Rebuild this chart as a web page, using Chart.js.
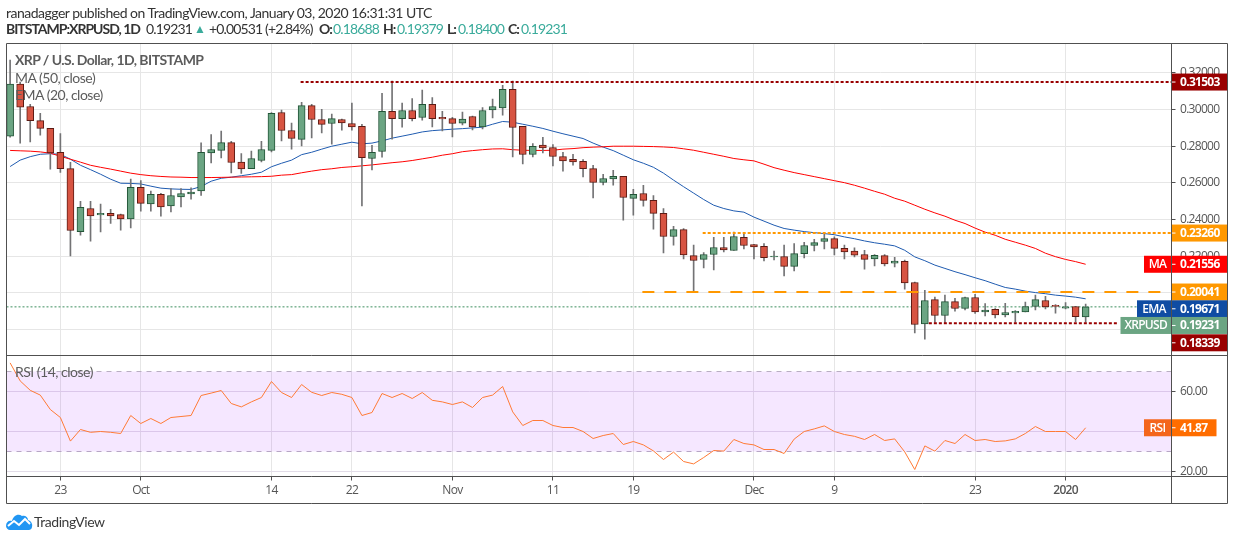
<!DOCTYPE html>
<html><head><meta charset="utf-8">
<style>
html,body{margin:0;padding:0;background:#fff;width:1234px;height:540px;overflow:hidden}
body{position:relative;font-family:Lato,"Open Sans",sans-serif;color:#333}
canvas{position:absolute;left:0;top:0}
.t{position:absolute;white-space:nowrap;line-height:16px}
.hd{font-size:14px;color:#333;letter-spacing:-0.5px}
.n{letter-spacing:-0.85px}
.b{font-weight:700;letter-spacing:-1px}
.up{color:#3aab9b}
.lg{font-size:14px;color:#5c5c5c;letter-spacing:-0.5px}
</style>
<script src="https://cdn.jsdelivr.net/npm/chart.js@4/dist/chart.umd.min.js"></script>
</head><body>
<canvas id="c" width="1234" height="540"></canvas>
<div class="t hd" style="left:6px;top:5px">ranadagger published on TradingView.com, January 03, 2020 16:31:31 UTC</div>
<div class="t hd b" style="left:6px;top:21px">BITSTAMP:XRPUSD, 1D</div>
<div class="t hd n" style="left:146px;top:21px">0.19231</div>
<div class="t hd up" style="left:194px;top:21px;font-size:12px">▲</div>
<div class="t hd n" style="left:209px;top:21px">+0.00531 (+2.84%)</div>
<div class="t hd b" style="left:319px;top:21px">O:</div><div class="t hd n up" style="left:333px;top:21px">0.18688</div>
<div class="t hd b" style="left:383px;top:21px">H:</div><div class="t hd n up" style="left:397px;top:21px">0.19379</div>
<div class="t hd b" style="left:447px;top:21px">L:</div><div class="t hd n up" style="left:458px;top:21px">0.18400</div>
<div class="t hd b" style="left:508px;top:21px">C:</div><div class="t hd n up" style="left:521px;top:21px">0.19231</div>
<div class="t lg" style="left:15px;top:52px;font-weight:700;letter-spacing:-0.55px">XRP / U.S. Dollar, 1D, BITSTAMP</div>
<div class="t lg" style="left:15px;top:70px">MA (50, close)</div>
<div class="t lg" style="left:15px;top:87px">EMA (20, close)</div>
<div class="t lg" style="left:15px;top:364px">RSI (14, close)</div>
<svg style="position:absolute;left:6px;top:513px" width="27" height="18" viewBox="0 0 27 18"><path d="M0 13 C0 9 3 7 6 8 C7 3 12 0 16 3 C19 2 22 4 22 7 C25 8 27 11 26 14 C26 16 24 17 23 17 L4 17 C2 17 0 15 0 13Z" fill="#2196f3"/><path d="M2 13 L8 8 L13 12 L19 6 L24 11" fill="none" stroke="#fff" stroke-width="2"/></svg>
<div class="t" style="left:34px;top:514px;font-size:14px;color:#3a3a3a;letter-spacing:-0.45px">TradingView</div>
<script>
const opens=[.2855,.3139,.3017,.2940,.2897,.2766,.2678,.2334,.2460,.2425,.2434,.2427,.2403,.2575,.2485,.2537,.2474,.2523,.2540,.2556,
.2764,.2777,.2820,.2714,.2678,.2722,.2777,.2984,.2886,.2837,.3022,.2946,.2924,.2946,.2924,.2908,.2733,.2771,.2990,.2951,
.2995,.2957,.3028,.2958,.2951,.2926,.2962,.2905,.2998,.3009,.3110,.2908,.2755,.2806,.2793,.2744,.2729,.2717,.2678,.2602,
.2622,.2635,.2515,.2542,.2504,.2433,.2307,.2345,.2203,.2182,.2209,.2247,.2231,.2302,.2263,.2253,.2196,.2198,.2144,.2214,
.2258,.2280,.2296,.2242,.2227,.2209,.2185,.2203,.2162,.2171,.2056,.1830,.1963,.1876,.1952,.1914,.1974,.1896,.1909,.1879,
.1890,.1896,.1925,.1958,.1932,.1916,.1925,.18688];
const highs=[.3270,.3150,.3029,.2980,.2898,.2869,.2712,.2499,.2499,.2484,.2456,.2429,.2620,.2613,.2555,.2543,.2569,.2569,.2573,.2819,
.2864,.2882,.2827,.2760,.2773,.2827,.2984,.2997,.2926,.3040,.3029,.3002,.2975,.2948,.3035,.2919,.2805,.3089,.3155,.3035,
.3060,.3106,.3066,.2991,.2958,.2986,.2965,.3011,.3057,.3133,.3155,.2909,.2815,.2849,.2809,.2766,.2756,.2727,.2696,.2647,
.2669,.2636,.2565,.2587,.2531,.2460,.2363,.2351,.2260,.2220,.2303,.2303,.2331,.2324,.2265,.2269,.2227,.2260,.2269,.2276,
.2292,.2329,.2305,.2260,.2245,.2232,.2209,.2209,.2194,.2178,.2058,.2014,.1976,.1987,.1969,.1976,.1992,.1941,.1914,.1943,
.1903,.1949,.1987,.1981,.1936,.1947,.1925,.19379];
const lows=[.2849,.2817,.2824,.2860,.2675,.2657,.2201,.2314,.2282,.2332,.2378,.2342,.2354,.2445,.2445,.2418,.2441,.2469,.2511,.2532,
.2709,.2736,.2654,.2651,.2678,.2714,.2769,.2829,.2784,.2802,.2845,.2873,.2811,.2887,.2887,.2474,.2671,.2740,.2838,.2904,
.2938,.2942,.2905,.2884,.2851,.2916,.2889,.2895,.2955,.2969,.2742,.2703,.2742,.2764,.2693,.2664,.2696,.2633,.2518,.2589,
.2587,.2396,.2423,.2473,.2347,.2218,.2260,.2185,.2003,.2136,.2125,.2223,.2231,.2239,.2185,.2174,.2179,.2092,.2119,.2190,
.2229,.2239,.2207,.2185,.2196,.2129,.2147,.2147,.2141,.2020,.1781,.1747,.1838,.1832,.1899,.1907,.1887,.1874,.1863,.1868,
.1839,.1896,.1907,.1912,.1889,.1912,.1842,.18400];
const closes=[.3139,.3013,.2940,.2897,.2764,.2678,.2340,.2466,.2420,.2434,.2420,.2403,.2575,.2488,.2537,.2469,.2531,.2542,.2549,.2766,
.2782,.2820,.2711,.2676,.2733,.2782,.2979,.2886,.2842,.3022,.2946,.2919,.2951,.2927,.2905,.2738,.2766,.2990,.2951,.2995,
.2951,.3028,.2951,.2949,.2924,.2948,.2905,.2995,.3017,.3110,.2902,.2755,.2799,.2791,.2744,.2720,.2714,.2678,.2602,.2624,
.2636,.2520,.2537,.2504,.2433,.2307,.2345,.2207,.2176,.2209,.2247,.2234,.2307,.2258,.2250,.2192,.2200,.2144,.2214,.2258,
.2274,.2296,.2242,.2223,.2205,.2182,.2205,.2158,.2173,.2054,.1827,.1958,.1876,.1952,.1914,.1974,.1896,.1905,.1879,.1892,
.1899,.1925,.1963,.1923,.1925,.1923,.1870,.19231];
const ma50=[.2777,.2775,.2773,.2769,.2762,.2745,.2729,.2713,.2696,.2685,.2675,.2664,.2653,.2645,.2639,.2635,.2632,.2631,.2629,.2629,
.2629,.2630,.2631,.2632,.2633,.2634,.2636,.2642,.2645,.2655,.2664,.2672,.2677,.2684,.2688,.2693,.2698,.2704,.2710,.2715,
.2722,.2731,.2740,.2751,.2759,.2770,.2776,.2781,.2785,.2786,.2781,.2778,.2777,.2777,.2778,.2784,.2787,.2792,.2795,.2797,
.2800,.2800,.2800,.2799,.2798,.2796,.2793,.2786,.2778,.2767,.2756,.2745,.2733,.2726,.2720,.2702,.2683,.2669,.2656,.2645,
.2634,.2623,.2612,.2601,.2587,.2571,.2554,.2538,.2516,.2500,.2478,.2456,.2436,.2418,.2396,.2378,.2353,.2331,.2314,.2292,
.2276,.2260,.2242,.2216,.2197,.2182,.2170,.21556];
const ema20=[.2689,.2724,.2743,.2756,.2759,.2756,.2729,.2696,.2672,.2647,.2620,.2598,.2597,.2594,.2582,.2571,.2567,.2565,.2564,.2580,
.2609,.2625,.2631,.2639,.2647,.2658,.2688,.2707,.2724,.2754,.2767,.2784,.2800,.2811,.2822,.2813,.2817,.2829,.2844,.2855,
.2866,.2878,.2885,.2889,.2893,.2896,.2900,.2904,.2920,.2935,.2931,.2920,.2909,.2897,.2882,.2868,.2855,.2842,.2817,.2795,
.2776,.2751,.2726,.2707,.2685,.2653,.2615,.2579,.2544,.2509,.2478,.2460,.2447,.2440,.2413,.2391,.2369,.2351,.2342,.2334,
.2328,.2323,.2317,.2305,.2295,.2283,.2273,.2265,.2256,.2232,.2196,.2175,.2151,.2133,.2115,.2099,.2082,.2066,.2047,.2029,
.2020,.2009,.2001,.1995,.1987,.1982,.1976,.19671];
const rsi14=[74.3,65.3,60.6,58.2,51,47,35.2,41,39.6,40,39.6,39,48,44,46.5,44,47,47.5,48,58,
59.2,60.5,54,52.3,54.8,57,65,59.5,57,63.5,59.6,58,59.5,58.6,57,48,49.5,59,57,59,
56.5,59.5,55.6,54.8,53.5,54.8,52,57,58.2,62.5,49.8,43,45.5,45.5,43,42,42,40,36.5,38,
39,33.5,35,33.3,30.3,26,29.7,25,23.8,27,30.5,30.2,36,34,33.3,31,31,29,36.2,40,
41.3,42.8,40,38.5,37.6,36,38.5,35.5,36.3,29.8,21,32.8,30.2,35.5,34,38.5,35.5,36,35,35.3,
36.3,39,42.5,40,40,40,36,41.87];
const priceTicks=[.18,.20,.22,.24,.26,.28,.30,.32];
const rsiTicks=[20,40,60];
const xTickDays=[5,13,26,34,44,54,62,74,82,96,105];
const xTickLabels=['23','Oct','14','22','Nov','11','19','Dec','9','23','2020'];
const lastClose=0.19231;
const resistanceTop=0.31503, resistanceMid=0.23260, resistanceLow=0.20041, supportLow=0.18339;
const rsiUpper=70, rsiLower=30;
const days=opens.map((_,i)=>i);
const FONT='"Open Sans","Noto Sans",sans-serif';
const xMin=-0.36,xMax=115.54;
const pts=a=>a.map((v,i)=>({x:i,y:v}));
const seg=(a,b,v)=>[{x:a,y:v},{x:b,y:v}];
const UP='#6ba583',DN='#d75442',UPB='#225437',DNB='#5b1a13',WICK='#737375';
const isUp=i=>closes[i]>=opens[i];
const lvl=(data,color,dash,width,order)=>({type:'line',data,yAxisID:'y',borderColor:color,borderWidth:width,borderDash:dash,pointRadius:0,order});
const frame={id:'frame',
 beforeDraw(ch){ch.ctx.letterSpacing='-0.7px';},
 afterDraw(ch){
  const c=ch.ctx,py=ch.scales.y,ry=ch.scales.yRsi;
  const L=6.5,R=1227.5,T=43.5,B=503.5,S=1171.5;
  const tag=(v,txt,col,name,dy,nameCol,w,nameW,scale)=>{
    const y=scale.getPixelForValue(v)+(dy||0);
    c.fillStyle=col;c.fillRect(S,y-8.5,w||55.5,17);
    c.fillStyle='#fff';c.fillRect(S,y-0.5,4,1);
    c.font='700 12px '+FONT;c.textAlign='left';c.textBaseline='middle';
    c.fillText(txt,S+8.5,y+0.5);
    if(name){c.fillStyle=nameCol||col;c.fillRect(S-nameW-0.5,y-8.5,nameW,17);
      c.fillStyle='#fff';c.textAlign='center';c.font='600 12px '+FONT;c.fillText(name,S-0.5-nameW/2,y+0.5);}
  };
  tag(resistanceTop,'0.31503','#990000',null,0,null,0,0,py);
  tag(resistanceMid,'0.23260','#ff9800',null,0,null,0,0,py);
  tag(ma50[107],'0.21556','#ff0000','MA',0,null,0,27,py);
  tag(resistanceLow,'0.20041','#ff9800',null,0,null,0,0,py);
  tag(ema20[107],'0.19671','#0f4ca3','EMA',10,null,0,34,py);
  tag(lastClose,'0.19231',UP,'XRPUSD',18.6,null,0,50.5,py);
  tag(supportLow,'0.18339','#990000',null,19.6,null,0,0,py);
  tag(rsi14[107],'41.87','#ff6d00','RSI',0,'#f4661b',45,27,ry);
  c.strokeStyle='#505050';c.lineWidth=1;c.beginPath();
  c.rect(L,T,R-L,B-T);
  c.moveTo(S,T);c.lineTo(S,B);
  c.moveTo(L,355.5);c.lineTo(R,355.5);
  c.moveTo(L,476.5);c.lineTo(R,476.5);
  c.stroke();
}};
new Chart(document.getElementById('c'),{
  data:{datasets:[
    lvl(seg(xMin,xMax,lastClose),'#3d8f5f',[2,2],1,8),
    {type:'line',data:pts(ma50),yAxisID:'y',borderColor:'#ff0000',borderWidth:1,pointRadius:0,tension:0,order:6},
    {type:'line',data:pts(ema20),yAxisID:'y',borderColor:'#1f5bb0',borderWidth:1,pointRadius:0,tension:0,order:6},
    {type:'bar',label:'wick',data:days.map(i=>({x:i,y:[lows[i],highs[i]]})),yAxisID:'y',backgroundColor:WICK,barThickness:1,grouped:false,order:5},
    {type:'bar',label:'body',data:days.map(i=>({x:i,y:[opens[i],closes[i]]})),yAxisID:'y',
      backgroundColor:days.map(i=>isUp(i)?UP:DN),borderColor:days.map(i=>isUp(i)?UPB:DNB),borderWidth:1,borderSkipped:false,barThickness:7,grouped:false,order:4},
    lvl(seg(28.9,115.54,resistanceTop),'#990000',[3,2],2,1),
    lvl(seg(68.9,115.54,resistanceMid),'#ff9800',[3,2],2,1),
    lvl(seg(62.9,114.5,resistanceLow),'#ff9800',[12,10],2,1),
    lvl(seg(91.4,110.3,supportLow),'#990000',[3,2],2,1),
    {type:'line',data:seg(xMin,xMax,rsiUpper),yAxisID:'yRsi',borderColor:'#b9aec2',borderWidth:1,borderDash:[5,5],pointRadius:0,fill:'+1',backgroundColor:'rgba(153,21,255,0.1)',order:7},
    {type:'line',data:seg(xMin,xMax,rsiLower),yAxisID:'yRsi',borderColor:'#b9aec2',borderWidth:1,borderDash:[5,5],pointRadius:0,order:7},
    {type:'line',data:pts(rsi14),yAxisID:'yRsi',borderColor:'#ff7a35',borderWidth:1,pointRadius:0,tension:0,order:2}
  ]},
  options:{
    responsive:false,animation:false,devicePixelRatio:1,
    layout:{padding:{left:6.5,top:43.5,right:6.5,bottom:36.5}},
    plugins:{legend:{display:false},tooltip:{enabled:false},title:{display:false}},
    scales:{
      x:{type:'linear',min:xMin,max:xMax,offset:false,position:'bottom',
        afterBuildTicks(s){s.ticks=xTickDays.map(v=>({value:v}));},
        afterFit(s){s.height=27;},
        grid:{offset:false,color:'#e6e6e6',tickColor:'#505050',tickLength:4},border:{display:false},
        ticks:{autoSkip:false,maxRotation:0,padding:3,color:'#555',
          font:(ctx)=>({family:FONT,size:12,weight:ctx.tick&&ctx.tick.value===105?'600':'400'}),
          callback:v=>{const k=xTickDays.indexOf(v);return k<0?'':xTickLabels[k];}}},
      y:{type:'linear',position:'right',stack:'p',stackWeight:312,min:.16576,max:.33607,
        afterBuildTicks(s){s.ticks=priceTicks.map(v=>({value:v}));},
        afterFit(s){s.width=56;},
        grid:{color:'#e6e6e6',tickColor:'#505050',tickLength:4},border:{display:false},
        ticks:{autoSkip:false,padding:4.5,color:'#555',font:{family:FONT,size:12},callback:v=>Number(v).toFixed(5)}},
      yRsi:{type:'linear',position:'right',stack:'p',stackWeight:121,min:17.5,max:78,
        afterBuildTicks(s){s.ticks=rsiTicks.map(v=>({value:v}));},
        afterFit(s){s.width=56;},
        grid:{color:'#e2dce8',tickColor:'#505050',tickLength:4},border:{display:false},
        ticks:{autoSkip:false,padding:4.5,color:'#555',font:{family:FONT,size:12},callback:v=>Number(v).toFixed(2)}}
    }
  },
  plugins:[frame]
});
</script>
</body></html>
